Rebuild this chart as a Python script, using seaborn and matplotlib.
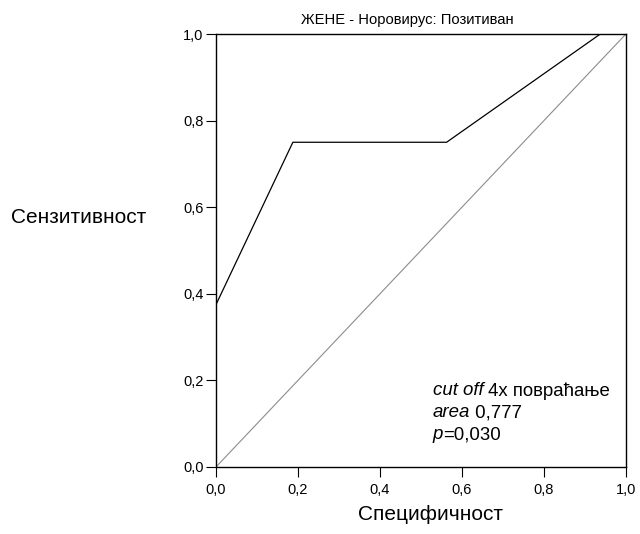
import matplotlib
matplotlib.use("Agg")
import matplotlib.pyplot as plt
import seaborn as sns
import pandas as pd
from matplotlib.ticker import FuncFormatter

sns.set_style("white")
plt.rcParams['font.family'] = ['Liberation Sans', 'DejaVu Sans']
plt.rcParams['text.color'] = 'black'
plt.rcParams['axes.labelcolor'] = 'black'

# ROC curve data (1 - specificity on x, sensitivity on y)
fpr = [0.0, 0.0, 0.1875, 0.5625, 0.9375, 1.0]
tpr = [0.0, 0.375, 0.75, 0.75, 1.0, 1.0]
ref_x = [0.0, 1.0]
ref_y = [0.0, 1.0]
ticks = [0.0, 0.2, 0.4, 0.6, 0.8, 1.0]

title = "ЖЕНЕ - Норовирус: Позитиван"
xlabel = "Специфичност"
ylabel = "Сензитивност"
ann_lines = [("cut off", " 4x повраћање"), ("area", " 0,777"), ("p", "=0,030")]

roc = pd.DataFrame({"x": fpr, "y": tpr})
diag = pd.DataFrame({"x": ref_x, "y": ref_y})

fig = plt.figure(figsize=(6.4, 5.34), dpi=100)
ax = fig.add_axes([0.3375, 0.1255, 0.6405, 0.8108])

sns.lineplot(data=diag, x="x", y="y", ax=ax, color="#8c8c8c", linewidth=0.8,
             estimator=None, sort=False)
sns.lineplot(data=roc, x="x", y="y", ax=ax, color="black", linewidth=0.9,
             estimator=None, sort=False)

ax.set_xlim(0, 1)
ax.set_ylim(0, 1)
ax.set_xticks(ticks)
ax.set_yticks(ticks)
fmt = FuncFormatter(lambda v, pos: f"{v:.1f}".replace(".", ","))
ax.xaxis.set_major_formatter(fmt)
ax.yaxis.set_major_formatter(fmt)
ax.tick_params(axis="both", direction="out", length=7.5, width=0.8, labelsize=10.5,
               colors="black", left=True, bottom=True, pad=1.5)
ax.tick_params(axis="x", pad=4)
for s in ax.spines.values():
    s.set_color("black")
    s.set_linewidth(1.0)

ax.set_xlabel("")
ax.set_ylabel("")
fig.text(0.637, 0.9625, title, ha="center", va="center", fontsize=10.6, color="black")
fig.text(0.672, 0.019, xlabel, ha="center", va="bottom", fontsize=15, color="black")
fig.text(0.229, 0.592, ylabel, ha="right", va="center", fontsize=15, color="black")

fs = 13.4
ys = [0.176, 0.125, 0.075]
for (it, rest), yy in zip(ann_lines, ys):
    t1 = ax.text(0.529, yy, it, style="italic", fontsize=fs, transform=ax.transAxes,
                 va="center", ha="left", color="black")
    ax.annotate(rest, xy=(1, 0.5), xycoords=t1, va="center", ha="left", fontsize=fs,
                color="black")

fig.savefig("out.png", dpi=100)
